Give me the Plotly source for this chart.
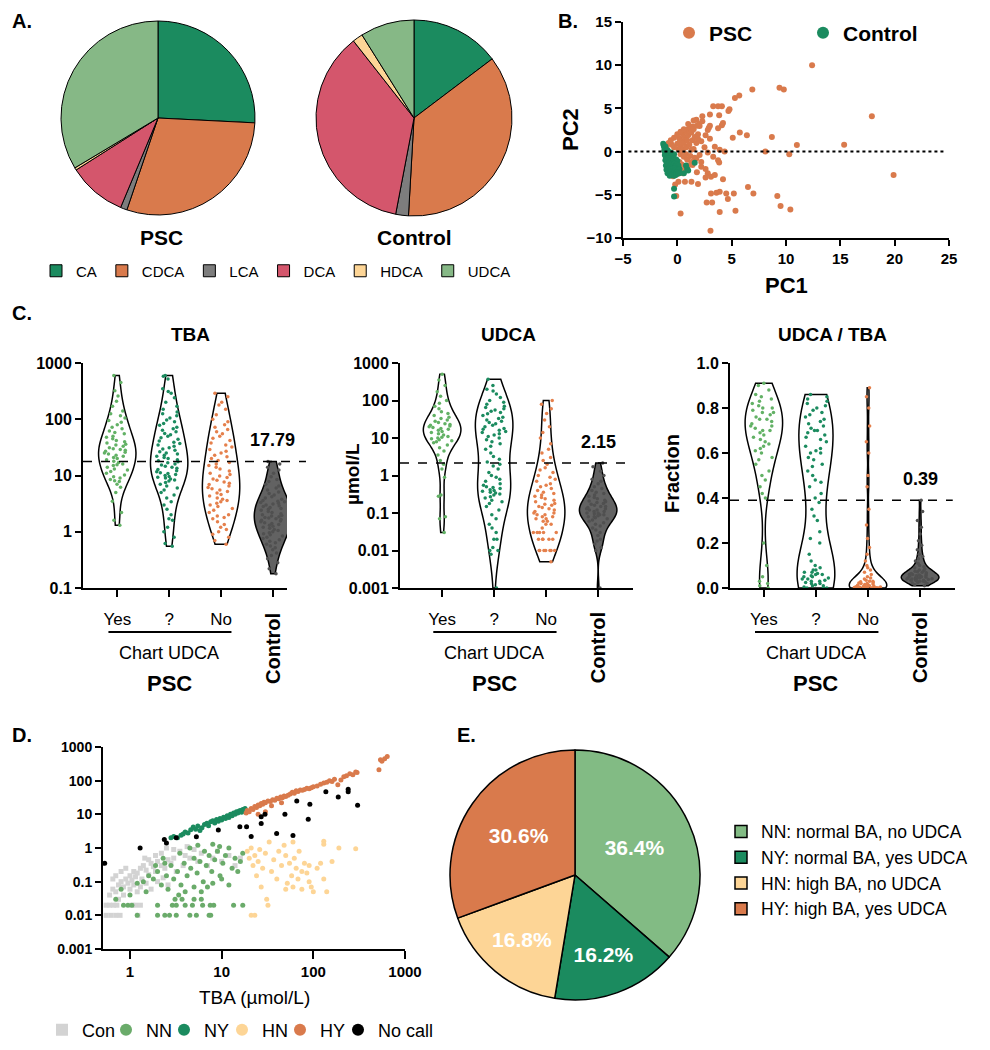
import numpy as np
import plotly.graph_objects as go

W, H = 990, 1050
OFF = 8  # page body offset in the browser
FONT = "Liberation Sans, Arial, Helvetica, sans-serif"


def px(x):
    return (x - OFF) / W


def py(y):
    return 1 - (y - OFF) / H


# ---------------- Panel A : bile-acid composition ----------------
ba_labels = ["CA", "CDCA", "LCA", "DCA", "HDCA", "UDCA"]
ba_colors = ["#1b8b5f", "#d97a4c", "#7d7d7d", "#d4566c", "#fdd596", "#86b886"]
psc_share = [25.8, 29.4, 1.1, 9.7, 0.4, 33.6]
ctrl_share = [14.7, 36.2, 2.1, 36.4, 1.7, 8.9]

# ---------------- Panel B : PCA (PC1, PC2) ----------------
psc_pc = [(12.4, 10.0), (6.9, 7.2), (9.4, 7.4), (9.8, 7.2), (5.7, 6.5), (5.3, 6.2), (17.9, 4.1),
          (3.3, 5.25), (3.75, 5.25), (4.1, 5.25), (4.8, 4.9), (4.7, 4.7), (3.0, 4.3), (3.85, 4.2),
          (2.3, 4.1), (1.75, 3.7), (1.5, 3.6), (4.2, 3.3), (4.1, 3.05), (2.9, 2.75), (3.75, 2.7),
          (2.05, 2.95), (1.4, 2.9), (1.9, 2.0), (5.75, 2.2), (6.4, 1.9), (5.1, 1.6), (8.7, 1.7),
          (3.0, 1.5), (1.75, 1.0), (11.0, 0.75), (15.35, 0.8), (3.45, 0.55), (0.85, 0.55), (3.9, 0.2),
          (1.3, 0.2), (4.35, 0.0), (8.1, 0.0), (10.3, -0.3), (2.8, -0.1), (2.05, -0.4), (3.3, -0.6),
          (1.75, -0.8), (3.75, -1.0), (3.85, -1.25), (2.2, -1.75), (1.4, -1.55), (19.9, -2.7),
          (2.8, -2.5), (3.1, -2.9), (3.45, -2.7), (2.6, -3.0), (4.2, -3.2), (0.7, -3.5), (1.3, -3.5),
          (1.9, -3.75), (0.1, -3.5), (-0.4, -2.85), (6.5, -4.1), (3.1, -4.85), (3.6, -4.75),
          (3.9, -4.65), (4.5, -4.85), (5.2, -4.85), (7.0, -4.85), (9.2, -5.15), (4.65, -5.5),
          (-0.1, -5.15), (2.7, -5.9), (3.2, -5.9), (9.5, -6.3), (5.35, -6.85), (10.4, -6.7),
          (3.9, -7.0), (0.3, -7.15), (3.05, -9.15), (-0.4, -2.3),
          (0.2, 1.5), (0.5, 2.0), (0.8, 2.3), (1.0, 2.6), (1.2, 2.8), (0.4, 1.2), (0.7, 1.6), (1.0, 1.9),
          (1.3, 2.2), (0.0, 0.9), (0.3, 0.6), (0.6, 1.0), (0.9, 1.3), (1.5, 2.6), (1.8, 3.0), (2.0, 3.2),
          (2.3, 3.5), (0.1, 0.3), (0.5, 0.2), (0.8, 0.5), (1.1, 0.8), (1.4, 1.3), (1.6, 1.7), (0.3, -0.3),
          (0.6, -0.6), (0.9, -0.9), (1.2, -0.5), (0.4, -1.5), (0.7, -2.0), (1.0, -1.6), (0.5, -2.5),
          (0.2, -2.0), (1.3, -1.2), (1.6, -0.7), (2.5, 0.5), (2.2, 1.2), (1.9, 1.5), (2.6, 1.9),
          (2.8, 2.5), (3.0, 3.0), (-0.3, 0.5), (-0.5, 0.8), (-0.2, -1.0), (-0.6, -1.8), (0.0, -2.6),
          (-0.2, -3.8), (-0.8, 1.0), (-0.6, 1.3), (-0.3, 1.6), (0.0, 2.0), (0.3, 2.3), (0.6, 2.6),
          (1.0, 3.2), (-1.0, 0.6), (0.2, -1.2), (0.8, -0.3), (1.5, 0.3), (2.2, -1.2), (2.6, -2.0),
          (1.8, -2.4)]
ctrl_pc = [(-1.3, 0.9), (-1.25, 0.7), (-1.2, 0.5), (-1.15, 0.3), (-1.1, 0.6), (-1.05, 0.2), (-1.2, 0.1),
           (-1.1, -0.1), (-1.0, 0.0), (-0.9, 0.15), (-0.8, -0.05), (-0.7, -0.2), (-0.6, -0.1),
           (-1.15, -0.4), (-1.05, -0.6), (-0.95, -0.45), (-0.85, -0.55), (-0.75, -0.4), (-0.65, -0.6),
           (-0.55, -0.45), (-0.45, -0.5), (-0.3, -0.3), (-1.1, -1.0), (-1.0, -0.85), (-0.9, -1.1),
           (-0.8, -0.8), (-0.7, -1.0), (-0.6, -1.2), (-0.5, -0.9), (-0.4, -1.1), (-0.3, -0.8),
           (-0.2, -1.0), (-0.1, -0.9), (0.0, -1.1), (-1.05, -1.6), (-0.95, -1.45), (-0.85, -1.7),
           (-0.75, -1.4), (-0.65, -1.6), (-0.55, -1.5), (-0.45, -1.8), (-0.35, -1.6), (-0.25, -1.4),
           (-0.15, -1.7), (-0.05, -1.5), (0.1, -1.6), (-1.0, -2.1), (-0.9, -2.0), (-0.8, -2.2),
           (-0.7, -1.9), (-0.6, -2.1), (-0.5, -2.3), (-0.4, -2.0), (-0.3, -2.2), (-0.2, -1.9),
           (-0.1, -2.1), (0.0, -2.3), (0.2, -2.0), (-0.9, -2.5), (-0.75, -2.6), (-0.6, -2.4),
           (-0.45, -2.6), (-0.3, -2.5), (-0.15, -2.7), (0.0, -2.4), (0.2, -2.5), (-0.7, -2.8),
           (-0.5, -2.7), (-0.3, -2.8), (-0.1, -2.6), (0.1, -2.5), (-0.3, -4.3), (-0.3, -5.2),
           (0.6, -2.5), (0.9, -2.0), (1.0, -2.2), (1.6, -1.3), (0.8, -1.6)]

# ---------------- Panel C : violins ----------------
c_groups = ["Yes", "?", "No", "Control"]
c_point_colors = ["#62b165", "#1b8b5f", "#e5804c", "#505050"]
c_fill_colors = ["rgba(255,255,255,0)", "rgba(255,255,255,0)", "rgba(255,255,255,0)", "#626262"]

tba_yes = [1.3, 1.6, 2.2, 3.5, 5.0, 6.2, 7.0, 7.8, 8.1, 8.5, 9.0, 9.5, 10.2, 11, 11.8, 12.5, 13, 14, 15,
           15.5, 16, 17, 18, 19, 20, 21, 22, 23, 24, 25, 26, 27, 28, 29, 30, 31, 33, 35, 36, 38, 40, 42,
           45, 48, 50, 55, 58, 62, 68, 72, 80, 88, 95, 105, 115, 125, 140, 170, 210, 260, 320, 450, 600]
tba_unk = [0.55, 0.62, 0.8, 1.0, 1.2, 1.6, 1.7, 2.0, 2.5, 3.0, 3.4, 4.0, 4.5, 5.0, 5.5, 6.0, 6.5, 7.0,
           7.5, 8.0, 8.3, 8.7, 9.0, 9.3, 9.6, 10, 10.4, 10.8, 11.2, 11.7, 12.2, 12.8, 13.4, 14, 14.6,
           15.3, 16, 16.8, 17.5, 18.3, 19, 20, 21, 22, 23, 24, 25, 26.5, 28, 29.5, 31, 33, 35, 37, 39,
           41, 44, 47, 50, 53, 56, 60, 64, 68, 72, 78, 84, 90, 97, 105, 115, 125, 135, 150, 170, 200,
           240, 290, 310, 350, 520, 580, 600]
tba_no = [0.6, 0.7, 0.8, 0.9, 1.0, 1.1, 1.2, 1.35, 1.5, 1.7, 1.8, 1.9, 2.0, 2.2, 2.4, 2.6, 2.8, 3.0,
          3.2, 3.4, 3.6, 3.8, 4.0, 4.3, 4.6, 4.9, 5.2, 5.5, 5.8, 6.1, 6.5, 6.9, 7.3, 7.7, 8.2, 8.7,
          9.2, 9.8, 10.4, 11, 12, 13, 14, 15, 16, 17, 18.5, 20, 21.5, 23, 25, 27, 29, 32, 35, 38, 42,
          46, 50, 55, 60, 66, 72, 80, 90, 100, 120, 150, 180, 200, 250, 290]
tba_con = [0.18, 0.22, 0.28, 0.33, 0.38, 0.42, 0.48, 0.52, 0.56, 0.6, 0.64, 0.68, 0.72, 0.76, 0.8,
           0.84, 0.88, 0.92, 0.96, 1.0, 1.05, 1.1, 1.15, 1.2, 1.25, 1.3, 1.35, 1.4, 1.45, 1.5, 1.55,
           1.6, 1.65, 1.7, 1.75, 1.8, 1.85, 1.9, 1.95, 2.0, 2.1, 2.2, 2.3, 2.4, 2.5, 2.6, 2.7, 2.8,
           2.9, 3.0, 3.1, 3.2, 3.3, 3.4, 3.5, 3.6, 3.8, 4.0, 4.2, 4.5, 4.8, 5.1, 5.5, 6.0, 6.5, 7.0,
           7.8, 8.5, 9.5, 11, 12.5, 14, 16, 17.8]

udca_yes = [0.03, 0.07, 0.08, 0.28, 0.3, 0.9, 1.5, 2.0, 2.5, 3.5, 4.5, 5.5, 6.5, 7.5, 8.0, 8.5, 9.0,
            9.5, 10, 10.5, 11, 12, 13, 14, 15, 16, 17, 18, 19, 20, 21, 22, 23, 24, 26, 28, 30, 33, 36,
            40, 45, 50, 60, 70, 85, 100, 130, 170, 250, 350, 500]
udca_unk = [0.001, 0.008, 0.01, 0.01, 0.012, 0.02, 0.02, 0.03, 0.04, 0.05, 0.07, 0.09, 0.12, 0.15,
            0.18, 0.2, 0.22, 0.25, 0.27, 0.3, 0.32, 0.34, 0.36, 0.38, 0.4, 0.42, 0.45, 0.48, 0.5,
            0.55, 0.6, 0.7, 0.8, 0.9, 1.0, 1.2, 1.5, 1.8, 2.0, 2.3, 2.7, 3.2, 4, 5, 6, 7, 8, 9, 10,
            11, 12, 13, 14, 15, 16, 17, 18, 20, 22, 24, 26, 28, 30, 33, 36, 40, 44, 48, 52, 56, 60,
            65, 70, 80, 90, 100, 120, 150, 180, 200, 250, 370]
udca_no = [0.005, 0.01, 0.01, 0.01, 0.01, 0.01, 0.01, 0.01, 0.02, 0.02, 0.02, 0.02, 0.02, 0.03, 0.03,
           0.03, 0.03, 0.03, 0.04, 0.05, 0.05, 0.06, 0.06, 0.07, 0.07, 0.08, 0.08, 0.09, 0.09, 0.1,
           0.1, 0.11, 0.12, 0.13, 0.14, 0.15, 0.16, 0.17, 0.18, 0.2, 0.22, 0.24, 0.26, 0.28, 0.3,
           0.33, 0.36, 0.4, 0.45, 0.5, 0.55, 0.6, 0.7, 0.8, 0.9, 1.0, 1.2, 1.4, 1.6, 2.0, 2.5, 3.0,
           4, 5, 7, 10, 14, 20, 30, 45, 60, 80, 100]
udca_con = [0.001, 0.01, 0.012, 0.015, 0.018, 0.02, 0.025, 0.03, 0.035, 0.04, 0.045, 0.05, 0.055,
            0.06, 0.065, 0.07, 0.075, 0.08, 0.08, 0.085, 0.09, 0.09, 0.095, 0.1, 0.1, 0.11, 0.11,
            0.12, 0.12, 0.13, 0.13, 0.14, 0.15, 0.15, 0.16, 0.17, 0.18, 0.19, 0.2, 0.21, 0.22, 0.24,
            0.26, 0.28, 0.3, 0.33, 0.36, 0.4, 0.45, 0.5, 0.6, 0.7, 0.8, 1.0, 1.3, 1.7, 2.15]

ratio_yes = [0.0, 0.01, 0.02, 0.03, 0.05, 0.1, 0.2, 0.4, 0.42, 0.45, 0.48, 0.5, 0.52, 0.55, 0.57, 0.58,
             0.6, 0.61, 0.62, 0.63, 0.64, 0.65, 0.66, 0.67, 0.68, 0.69, 0.7, 0.7, 0.71, 0.72, 0.72,
             0.73, 0.74, 0.75, 0.75, 0.76, 0.77, 0.78, 0.78, 0.79, 0.8, 0.8, 0.81, 0.82, 0.83, 0.84,
             0.85, 0.86, 0.88, 0.9, 0.91]
ratio_unk = [0.0, 0.0, 0.0, 0.005, 0.01, 0.01, 0.015, 0.02, 0.02, 0.025, 0.03, 0.03, 0.035, 0.04,
             0.04, 0.045, 0.05, 0.05, 0.055, 0.06, 0.06, 0.065, 0.07, 0.07, 0.08, 0.08, 0.09, 0.1,
             0.12, 0.15, 0.2, 0.22, 0.25, 0.3, 0.32, 0.35, 0.38, 0.4, 0.42, 0.45, 0.47, 0.48, 0.5,
             0.52, 0.54, 0.55, 0.57, 0.58, 0.6, 0.6, 0.61, 0.62, 0.63, 0.65, 0.66, 0.67, 0.68, 0.69,
             0.7, 0.7, 0.71, 0.72, 0.73, 0.74, 0.75, 0.76, 0.77, 0.78, 0.79, 0.8, 0.81, 0.82, 0.83,
             0.84, 0.85, 0.86]
ratio_no = [0.0, 0.0, 0.0, 0.0, 0.0, 0.0, 0.0, 0.0, 0.0, 0.0, 0.0, 0.0, 0.001, 0.002, 0.003, 0.004,
            0.005, 0.006, 0.007, 0.008, 0.009, 0.01, 0.01, 0.012, 0.014, 0.016, 0.018, 0.02, 0.02,
            0.022, 0.025, 0.028, 0.03, 0.03, 0.035, 0.04, 0.045, 0.05, 0.06, 0.07, 0.08, 0.09, 0.1,
            0.12, 0.15, 0.18, 0.22, 0.28, 0.35, 0.45, 0.5, 0.6, 0.65, 0.72, 0.8, 0.85, 0.89]
ratio_con = [0.01, 0.015, 0.02, 0.022, 0.025, 0.027, 0.03, 0.03, 0.032, 0.034, 0.035, 0.036, 0.038,
             0.04, 0.04, 0.041, 0.042, 0.044, 0.045, 0.046, 0.048, 0.05, 0.05, 0.052, 0.054, 0.055,
             0.056, 0.058, 0.06, 0.06, 0.062, 0.065, 0.068, 0.07, 0.072, 0.075, 0.078, 0.08, 0.085,
             0.09, 0.095, 0.1, 0.11, 0.12, 0.13, 0.14, 0.15, 0.17, 0.19, 0.21, 0.24, 0.27, 0.3, 0.34,
             0.39]

c_titles = ["TBA", "UDCA", "UDCA / TBA"]
c_thresholds = [17.79, 2.15, 0.39]
c_threshold_text = ["17.79", "2.15", "0.39"]

# ---------------- Panel D : TBA vs UDCA (µmol/L) ----------------
d_con = [(0.55, 0.01), (0.62, 0.01), (0.7, 0.01), (0.78, 0.01), (1.22, 0.01), (0.55, 0.02), (0.6, 0.02),
         (0.66, 0.02), (0.72, 0.02), (1.05, 0.02), (1.15, 0.02), (1.3, 0.02), (0.6, 0.04), (0.65, 0.06),
         (0.7, 0.05), (0.75, 0.08), (0.8, 0.1), (0.85, 0.07), (0.9, 0.12), (0.95, 0.09), (1.0, 0.15),
         (1.05, 0.11), (1.1, 0.2), (1.15, 0.14), (1.2, 0.18), (1.3, 0.25), (1.35, 0.12), (1.4, 0.3),
         (1.5, 0.22), (1.6, 0.16), (1.7, 0.35), (1.8, 0.28), (1.9, 0.2), (2.0, 0.4), (2.2, 0.3),
         (2.4, 0.25), (2.6, 0.45), (2.8, 0.35), (3.0, 0.5), (0.7, 0.15), (0.8, 0.2), (0.9, 0.25),
         (1.0, 0.06), (1.1, 0.08), (1.2, 0.05), (1.3, 0.07), (1.5, 0.09), (1.7, 0.06), (2.0, 0.1),
         (2.3, 0.13), (2.6, 0.08), (0.65, 0.12), (0.75, 0.03), (0.85, 0.04), (1.45, 0.5), (1.6, 0.45),
         (1.9, 0.6), (2.2, 0.7), (3.5, 0.8), (4.0, 0.6), (4.5, 0.5), (5.0, 0.9), (5.5, 0.4), (6.0, 0.7),
         (7.0, 0.3), (8.0, 0.5), (9.0, 0.8), (10, 0.4), (12, 0.6), (14, 0.3), (16, 0.5), (3.2, 0.2),
         (3.8, 0.3), (2.5, 1.0), (3.0, 0.9), (4.2, 1.1)]
d_nn = [(1.2, 0.01), (2.0, 0.01), (2.4, 0.01), (2.7, 0.01), (3.2, 0.01), (4.5, 0.01), (5.3, 0.01),
        (7.3, 0.01), (7.6, 0.01), (0.85, 0.02), (0.95, 0.02), (1.05, 0.02), (2.0, 0.02), (2.9, 0.02),
        (3.2, 0.02), (4.0, 0.02), (4.8, 0.02), (6.2, 0.02), (7.5, 0.02), (8.2, 0.02), (13.5, 0.02),
        (17, 0.02), (0.7, 0.03), (3.1, 0.03), (3.7, 0.03), (5.0, 0.03), (6.0, 0.03), (0.8, 0.06),
        (1.0, 0.04), (1.2, 0.09), (1.4, 0.1), (1.6, 0.15), (1.8, 0.12), (2.0, 0.2), (2.2, 0.08),
        (2.5, 0.15), (2.8, 0.3), (3.0, 0.12), (3.3, 0.2), (3.6, 0.08), (3.9, 0.35), (4.2, 0.15),
        (4.6, 0.25), (5.0, 0.5), (5.4, 0.18), (5.8, 0.4), (6.3, 0.1), (6.8, 0.3), (7.3, 0.6),
        (7.8, 0.2), (8.4, 0.45), (9.0, 0.8), (9.6, 0.15), (10.3, 0.35), (11, 0.6), (12, 1.0),
        (13, 0.25), (14, 0.5), (15, 0.2), (16, 0.4), (17, 0.7), (2.3, 0.5), (3.5, 0.7), (4.5, 1.0),
        (5.5, 1.2), (6.5, 0.8), (8.0, 1.3), (9.5, 1.1), (4.0, 0.05), (5.0, 0.07), (6.0, 0.05),
        (7.0, 0.07), (8.0, 0.09), (10, 0.12), (12, 0.08), (1.5, 0.05), (2.6, 0.06), (3.4, 0.04),
        (1.9, 0.3), (2.4, 0.35)]
d_ny = [(2.8, 2.0), (3.0, 2.2), (3.3, 2.0), (3.6, 2.4), (3.8, 2.6), (4.0, 3.0), (4.3, 2.8), (4.6, 3.5),
        (4.9, 4.2), (5.2, 3.6), (5.5, 4.5), (5.8, 3.3), (6.1, 4.0), (6.5, 5.0), (6.9, 5.4), (7.2, 4.6),
        (7.6, 6.0), (8.0, 6.5), (8.4, 5.5), (8.8, 7.0), (9.2, 6.2), (9.6, 7.5), (10, 6.8), (10.5, 8.2),
        (11, 7.5), (11.5, 9.0), (12, 8.0), (12.5, 10), (13, 9.0), (13.5, 11), (14, 10), (14.5, 12),
        (15, 11), (15.5, 12.5), (16, 13), (16.5, 11.5), (17, 14), (17.5, 12.5), (18, 15)]
d_hn = [(19, 0.8), (20, 0.5), (21, 1.0), (22, 0.3), (23, 0.6), (24, 0.15), (25, 0.4), (26, 0.9),
        (27, 0.07), (28, 0.25), (30, 0.7), (31, 0.03), (32, 0.02), (33, 1.5), (35, 0.2), (37, 0.45),
        (40, 0.12), (42, 0.8), (45, 0.3), (48, 1.2), (50, 0.6), (52, 0.09), (55, 0.35), (58, 0.15),
        (60, 1.5), (62, 0.5), (65, 0.25), (68, 0.12), (70, 0.8), (75, 0.06), (80, 0.35), (85, 0.18),
        (90, 0.1), (95, 0.07), (100, 0.05), (110, 0.25), (120, 0.35), (130, 0.12), (140, 0.05),
        (160, 0.4), (190, 1.0), (290, 0.95), (130, 1.6), (130, 1.3), (21, 0.01), (23, 0.01),
        (50, 0.06), (60, 0.07), (75, 0.2), (90, 0.3)]
d_hy = [(18.5, 11), (19, 13), (20, 12), (21, 15), (22, 14), (23, 17), (24, 16), (25, 19), (26, 18),
        (27, 21), (28, 20), (29, 23), (30, 22), (32, 25), (34, 24), (36, 27), (38, 26), (40, 30),
        (42, 29), (44, 33), (46, 31), (48, 35), (50, 34), (53, 37), (56, 40), (59, 45), (62, 42),
        (65, 50), (68, 48), (72, 53), (76, 52), (80, 55), (85, 60), (90, 58), (95, 62), (100, 66),
        (110, 70), (120, 78), (130, 85), (140, 90), (150, 100), (160, 95), (170, 110), (185, 75),
        (200, 105), (215, 130), (230, 140), (250, 160), (270, 150), (290, 180), (300, 175),
        (520, 210), (540, 420), (560, 380), (600, 450), (640, 520), (30, 12), (25, 10), (35, 18),
        (45, 22)]
d_nocall = [(0.53, 0.35), (1.29, 1.0), (2.37, 1.8), (2.5, 1.4), (3.2, 2.0), (5.3, 2.15), (9.2, 3.4),
            (15.8, 4.3), (18.7, 4.3), (21, 2.2), (27, 8.5), (29.7, 10), (27, 5.3), (39.8, 2.7),
            (49, 10), (60, 2.35), (66, 25), (88, 7.1), (91.7, 20), (137, 47), (187, 33), (240, 47),
            (240, 56), (304, 18.7)]

# ---------------- Panel E : classification ----------------
e_labels = ["NN: normal BA, no UDCA", "NY: normal BA, yes UDCA", "HN: high BA, no UDCA",
            "HY: high BA, yes UDCA"]
e_values = [36.4, 16.2, 16.8, 30.6]
e_colors = ["#82bb84", "#1b8b5f", "#fdd596", "#d97a4c"]

# =====================================================================
fig = go.Figure()

# ---- A pies
fig.add_trace(go.Pie(
    labels=ba_labels, values=psc_share, sort=False, direction="clockwise", rotation=0,
    marker=dict(colors=ba_colors, line=dict(color="black", width=1)), textinfo="none",
    domain=dict(x=[px(61), px(255)], y=[py(215), py(21)]), legend="legend2", hoverinfo="skip"))
fig.add_trace(go.Pie(
    labels=ba_labels, values=ctrl_share, sort=False, direction="clockwise", rotation=0,
    marker=dict(colors=ba_colors, line=dict(color="black", width=1)), textinfo="none",
    domain=dict(x=[px(316), px(512)], y=[py(216), py(20)]), legend="legend2", hoverinfo="skip"))

# ---- B scatter
pc1_psc, pc2_psc = zip(*psc_pc)
pc1_ctl, pc2_ctl = zip(*ctrl_pc)
fig.add_trace(go.Scatter(x=pc1_psc, y=pc2_psc, mode="markers", name="PSC", xaxis="x", yaxis="y",
                         marker=dict(color="#d97a4c", size=6), legend="legend4", legendwidth=89))
fig.add_trace(go.Scatter(x=pc1_ctl, y=pc2_ctl, mode="markers", name="Control", xaxis="x", yaxis="y",
                         marker=dict(color="#1b8b5f", size=6), legend="legend4"))

# ---- C violins
c_data = [
    ("x2", "y2", [tba_yes, tba_unk, tba_no, tba_con], True),
    ("x3", "y3", [udca_yes, udca_unk, udca_no, udca_con], True),
    ("x4", "y4", [ratio_yes, ratio_unk, ratio_no, ratio_con], False),
]
for xa, ya, groups, logscale in c_data:
    for i, vals in enumerate(groups):
        v = np.log10(np.array(vals)) if logscale else np.array(vals)
        fig.add_trace(go.Violin(
            x0=i, y=v, xaxis=xa, yaxis=ya, orientation="v", name=c_groups[i],
            line=dict(color="black", width=1.5), fillcolor=c_fill_colors[i],
            points="all", pointpos=0, jitter=0.75,
            marker=dict(color=c_point_colors[i], size=3.5),
            spanmode="hard", width=0.72, scalemode="width",
            box_visible=False, meanline_visible=False, showlegend=False, hoverinfo="skip"))

# ---- D scatter
d_groups = [("Con", d_con, "#d3d3d3", "square", 19),
            ("NN", d_nn, "#6aab6a", "circle", 13),
            ("NY", d_ny, "#1b8b5f", "circle", 13),
            ("HN", d_hn, "#fdd596", "circle", 13),
            ("HY", d_hy, "#d97a4c", "circle", 13),
            ("No call", d_nocall, "#000000", "circle", 0)]
for name, pts, col, sym, lw in d_groups:
    xs, ys = zip(*pts)
    fig.add_trace(go.Scatter(x=xs, y=ys, mode="markers", name=name, xaxis="x5", yaxis="y5",
                             marker=dict(color=col, size=5, symbol=sym), legend="legend",
                             legendwidth=lw if lw else None))

# ---- E pie
fig.add_trace(go.Pie(
    labels=e_labels, values=e_values, sort=False, direction="clockwise", rotation=0,
    marker=dict(colors=e_colors, line=dict(color="black", width=1.5)),
    texttemplate="%{value:.1f}%", textposition="inside", insidetextorientation="horizontal",
    textfont=dict(family=FONT, size=21, color="white", weight="bold"),
    domain=dict(x=[px(450), px(700)], y=[py(1000), py(750)]), legend="legend3", hoverinfo="skip"))

# ---------------- axes ----------------
bold_tick = dict(family=FONT, size=15, color="black", weight="bold")
base_ax = dict(showline=True, linecolor="black", linewidth=2, ticks="outside", tickcolor="black",
               tickwidth=2, ticklen=6, showgrid=False, zeroline=False, tickfont=bold_tick,
               automargin=False)

cat_ax = dict(base_ax, tickvals=[0, 1, 2, 3], ticktext=["Yes", "?", "No", ""], ticklen=7,
              tickfont=dict(family=FONT, size=17, color="black"), ticklabelstandoff=8)

log_ticks_c1 = [-1, 0, 1, 2, 3]
log_ticks_c2 = [-3, -2, -1, 0, 1, 2, 3]
log_text = {-3: "0.001", -2: "0.01", -1: "0.1", 0: "1", 1: "10", 2: "100", 3: "1000"}

c_ydom = [py(588), py(363)]
fig.update_layout(
    xaxis=dict(base_ax, domain=[px(623), px(949)], range=[-5, 25], tickvals=[-5, 0, 5, 10, 15, 20, 25],
               anchor="y"),
    yaxis=dict(base_ax, domain=[py(238), py(22)], range=[-10, 15], tickvals=[-10, -5, 0, 5, 10, 15],
               anchor="x"),
    xaxis2=dict(cat_ax, domain=[px(83), px(287)], range=[-0.66, 3.27], anchor="y2"),
    yaxis2=dict(base_ax, domain=c_ydom, range=[-1, 3], tickvals=log_ticks_c1,
                ticktext=[log_text[t] for t in log_ticks_c1], anchor="x2", tickfont=dict(bold_tick, size=16)),
    xaxis3=dict(cat_ax, domain=[px(400), px(633)], range=[-0.81, 3.67], anchor="y3"),
    yaxis3=dict(base_ax, domain=c_ydom, range=[-3, 3], tickvals=log_ticks_c2,
                ticktext=[log_text[t] for t in log_ticks_c2], anchor="x3", tickfont=dict(bold_tick, size=16)),
    xaxis4=dict(cat_ax, domain=[px(730), px(955)], range=[-0.65, 3.67], anchor="y4"),
    yaxis4=dict(base_ax, domain=c_ydom, range=[0, 1], tickvals=[0, 0.2, 0.4, 0.6, 0.8, 1.0],
                tickformat=".1f", anchor="x4", tickfont=dict(bold_tick, size=16)),
    xaxis5=dict(base_ax, type="log", domain=[px(103), px(405)], range=[np.log10(0.508), 3],
                tickvals=[1, 10, 100, 1000], ticktext=["1", "10", "100", "1000"], anchor="y5",
                ticklen=8),
    yaxis5=dict(base_ax, type="log", domain=[py(949), py(747)], range=[-3, 3],
                tickvals=[0.001, 0.01, 0.1, 1, 10, 100, 1000],
                ticktext=["0.001", "0.01", "0.1", "1", "10", "100", "1000"], anchor="x5",
                tickfont=dict(bold_tick, size=14)),
)

# ---------------- shapes ----------------
shapes = [dict(type="line", xref="x", yref="y", x0=-4.5, x1=24.5, y0=0, y1=0,
               line=dict(color="black", width=2, dash="dot"))]
c_axes = [("x2", "y2", -1, 3, True, 1.093), ("x3", "y3", -3, 3, True, 1.0),
          ("x4", "y4", 0, 1, False, 0.99)]
for k, (xa, ya, lo, hi, logscale, xend) in enumerate(c_axes):
    t = np.log10(c_thresholds[k]) if logscale else c_thresholds[k]
    frac = (t - lo) / (hi - lo)
    shapes.append(dict(type="line", xref=f"{xa} domain", yref=f"{ya} domain", x0=0, x1=xend,
                       y0=frac, y1=frac, line=dict(color="black", width=1.6, dash="dash")))
    shapes.append(dict(type="line", xref=xa, yref="paper", x0=-0.17, x1=2.2, y0=py(632), y1=py(632),
                       line=dict(color="black", width=2)))
fig.update_layout(shapes=shapes)

# ---------------- annotations ----------------
ann = []


def add_text(text, x, y, size, bold=False, xref="paper", yref="paper", **kw):
    d = dict(text=text, x=x, y=y, xref=xref, yref=yref, showarrow=False,
             xanchor="center", yanchor="middle",
             font=dict(family=FONT, size=size, color="black", weight="bold" if bold else "normal"))
    d.update(kw)
    ann.append(d)


# panel letters
for letter, lx, ly in [("A.", 22, 21), ("B.", 568, 21), ("C.", 22, 313), ("D.", 22, 735), ("E.", 466, 735)]:
    add_text(letter, px(lx), py(ly), 20, True)

# A titles
add_text("PSC", px(161), py(237), 21, True)
add_text("Control", px(414), py(237), 21, True)

# B axis titles
add_text("PC1", px(786), py(285), 22, True)
add_text("PC2", px(571), py(130), 22, True, textangle=-90)

# C panels
c_title_x = [190, 508, 832]
for k in range(3):
    add_text(c_titles[k], px(c_title_x[k]), py(335), 19, True)
    xa, ya, lo, hi, logscale, _ = c_axes[k]
    t = np.log10(c_thresholds[k]) if logscale else c_thresholds[k]
    add_text(c_threshold_text[k], 3, t, 18, True, xref=xa, yref=ya, yanchor="bottom", yshift=9)
    add_text("Chart UDCA", 1, py(653), 18, False, xref=xa)
    add_text("PSC", 1, py(683), 22, True, xref=xa)
    add_text("Control", 3, py(648), 20, True, xref=xa, textangle=-90)
add_text("µmol/L", px(352), py(474), 19, True, textangle=-90)
add_text("Fraction", px(672), py(474), 20, True, textangle=-90)

# D axis title
add_text("TBA (µmol/L)", px(254), py(997), 19, False)

fig.update_layout(annotations=ann)

# ---------------- legends & general ----------------
fig.update_layout(
    width=W, height=H, margin=dict(l=0, r=0, t=0, b=0, pad=0, autoexpand=False),
    paper_bgcolor="white", plot_bgcolor="white",
    font=dict(family=FONT, color="black"),
    violinmode="overlay",
    legend=dict(orientation="h", x=px(42), y=py(1030), xanchor="left", yanchor="middle",
                font=dict(family=FONT, size=18, color="black"), itemsizing="constant",
                bgcolor="rgba(0,0,0,0)", traceorder="normal"),
    legend2=dict(orientation="h", x=px(36), y=py(271), xanchor="left", yanchor="middle",
                 font=dict(family=FONT, size=15, color="black"), bgcolor="rgba(0,0,0,0)"),
    legend3=dict(orientation="v", x=px(721), y=py(870), xanchor="left", yanchor="middle",
                 font=dict(family=FONT, size=17.5, color="black"), bgcolor="rgba(0,0,0,0)"),
    legend4=dict(orientation="h", x=px(669), y=py(33), xanchor="left", yanchor="middle",
                 font=dict(family=FONT, size=21, color="black", weight="bold"), itemsizing="constant",
                 bgcolor="rgba(0,0,0,0)"),
)

fig.write_html("out.html")
